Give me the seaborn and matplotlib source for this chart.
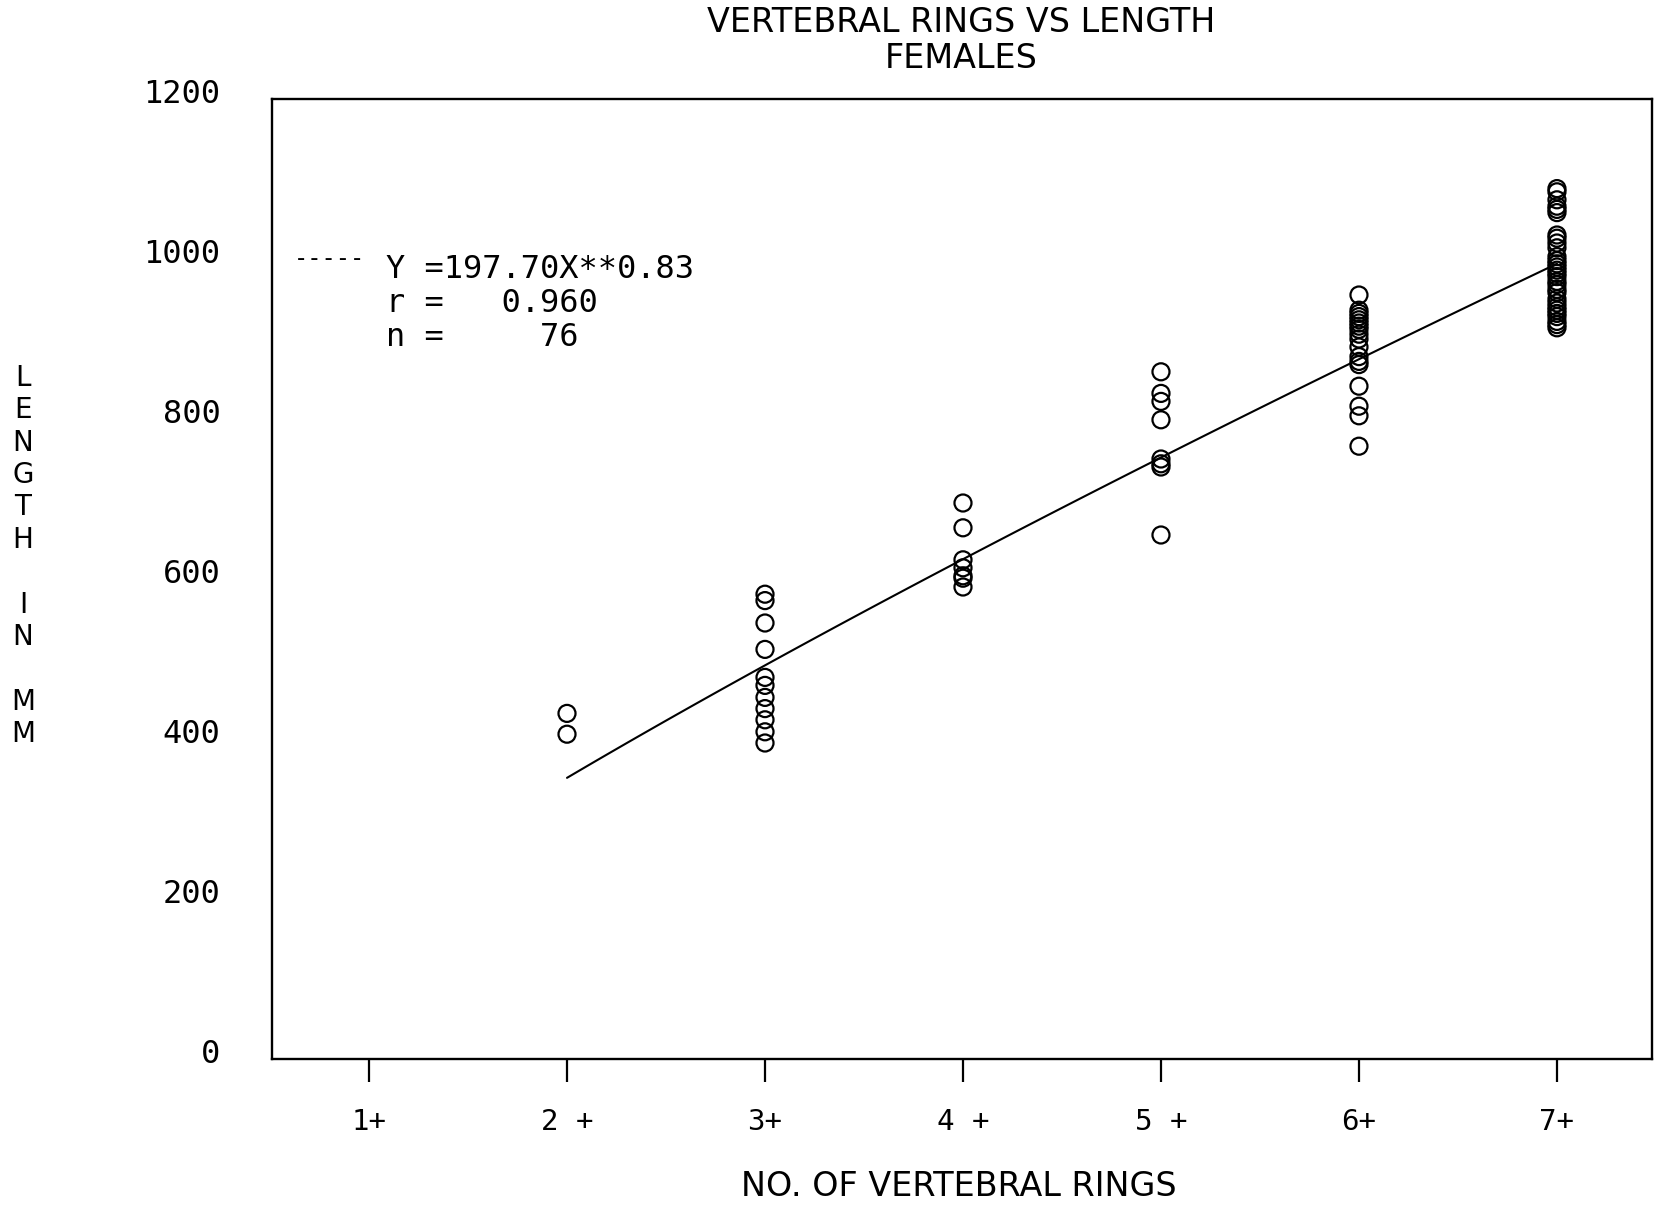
import numpy as np
import pandas as pd
import matplotlib
matplotlib.use("Agg")
import matplotlib.pyplot as plt
import matplotlib.transforms as mtransforms
import seaborn as sns

# ---- data ----
rings_2 = [432, 406]
rings_3 = [581, 573, 545, 512, 477, 467, 452, 438, 424, 409, 395]
rings_4 = [695, 664, 624, 614, 604, 601, 590]
rings_5 = [859, 832, 822, 799, 750, 744, 740, 655]
rings_6 = [955, 936, 932, 928, 924, 920, 916, 912, 906, 900, 890, 878, 872,
           868, 841, 816, 804, 766]
rings_7 = [1088, 1084, 1074, 1066, 1062, 1058, 1030, 1026, 1020, 1014, 1003,
           998, 994, 990, 986, 982, 978, 972, 968, 962, 958, 950, 945, 940,
           936, 932, 928, 922, 918, 914]

tick_positions = [1, 2, 3, 4, 5, 6, 7]
tick_labels = ["1+", "2 +", "3+", "4 +", "5 +", "6+", "7+"]
y_ticks = [0, 200, 400, 600, 800, 1000, 1200]

coef_a = 197.70   # Y = a * X**b (from the chart)
coef_b = 0.83
fit_x_range = (2, 7)

groups = {2: rings_2, 3: rings_3, 4: rings_4, 5: rings_5, 6: rings_6, 7: rings_7}
df = pd.DataFrame(
    [(k, v) for k, vals in groups.items() for v in vals],
    columns=["rings", "length"],
)
fit_x = np.linspace(fit_x_range[0], fit_x_range[1], 100)
fit_df = pd.DataFrame({"rings": fit_x, "length": coef_a * fit_x ** coef_b})

# ---- figure ----
sns.set_style("white")
plt.rcParams["font.family"] = ["DejaVu Sans"]
plt.rcParams["text.color"] = "black"
plt.rcParams["xtick.color"] = "black"
plt.rcParams["ytick.color"] = "black"
plt.rcParams["xtick.labelcolor"] = "black"
plt.rcParams["ytick.labelcolor"] = "black"
plt.rcParams["ytick.left"] = True
plt.rcParams["xtick.bottom"] = True
plt.rcParams["ytick.minor.visible"] = False

W, H = 1658, 1205
fig = plt.figure(figsize=(W / 100, H / 100), dpi=100)
ax = fig.add_axes([272 / W, 1 - 1059 / H, (1652 - 272) / W, (1059 - 99) / H])

sns.scatterplot(data=df, x="rings", y="length", ax=ax, s=150,
                facecolors="none", edgecolor="black", linewidth=1.6,
                marker="o", legend=False)
sns.lineplot(data=fit_df, x="rings", y="length", ax=ax, color="black",
             linewidth=1.5, legend=False)

ax.set_xlim(0.51, 7.48)
ax.set_ylim(0, 1200)
ax.set_xlabel("")
ax.set_ylabel("")

for s in ax.spines.values():
    s.set_visible(True)
    s.set_linewidth(1.7)
    s.set_color("black")

ax.set_xticks(tick_positions)
ax.set_xticklabels(tick_labels, family="DejaVu Sans Mono", fontsize=21)
ax.tick_params(axis="x", direction="out", length=16.5, width=1.6,
               pad=19, color="black", bottom=True)
ax.set_yticks(y_ticks)
ax.set_yticklabels([str(v) for v in y_ticks], family="DejaVu Sans Mono",
                   fontsize=23)
ax.tick_params(axis="y", which="major", length=0, pad=37, left=True)
ax.set_yticks([0, 1200], minor=True)
ax.tick_params(axis="y", which="minor", direction="out", length=12,
               width=1.7, left=True, color="black")
offset = mtransforms.ScaledTranslation(0, 8 / 100, fig.dpi_scale_trans)
for lab in ax.get_yticklabels():
    lab.set_transform(lab.get_transform() + offset)


def fx(px):
    return px / W


def fy(py):
    return 1 - py / H


fig.text(fx(961), fy(23), "VERTEBRAL RINGS VS LENGTH", ha="center",
         va="center", fontsize=24)
fig.text(fx(961), fy(58), "FEMALES", ha="center", va="center", fontsize=24)
fig.text(fx(959), fy(1187), "NO. OF VERTEBRAL RINGS", ha="center",
         va="center", fontsize=24)
fig.text(fx(23), fy(556), "L\nE\nN\nG\nT\nH\n\nI\nN\n\nM\nM", ha="center",
         va="center", fontsize=20, linespacing=1.2)

mono = "DejaVu Sans Mono"
fig.text(fx(294), fy(259), "-----", ha="left", va="center", fontsize=17,
         family=mono)
fig.text(fx(386), fy(269), "Y =197.70X**0.83", ha="left", va="center",
         fontsize=23, family=mono)
fig.text(fx(386), fy(303), "r =   0.960", ha="left", va="center",
         fontsize=23, family=mono)
fig.text(fx(386), fy(337), "n =     76", ha="left", va="center",
         fontsize=23, family=mono)

fig.savefig("out.png", dpi=100, facecolor="white")
